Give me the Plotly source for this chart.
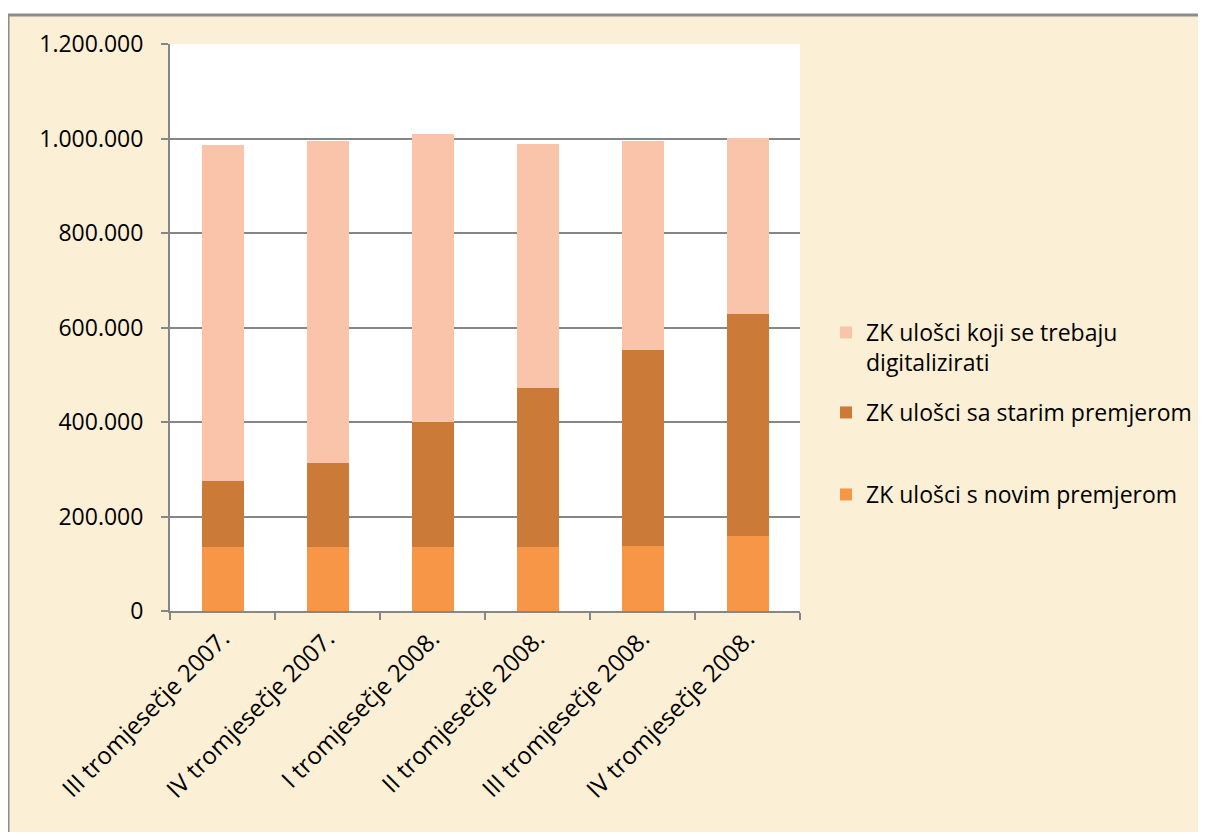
import plotly.graph_objects as go

categories = ["III tromjesečje 2007.", "IV tromjesečje 2007.", "I tromjesečje 2008.",
              "II tromjesečje 2008.", "III tromjesečje 2008.", "IV tromjesečje 2008."]
novi_premjer = [135000, 135000, 135000, 135000, 137000, 158000]
stari_premjer = [141000, 178000, 266000, 337000, 416000, 471000]
digitalizirati = [711000, 681000, 609000, 516000, 441000, 373000]
y_ticks = [0, 200000, 400000, 600000, 800000, 1000000, 1200000]

FONT = "Open Sans"
OFF = 8  # page body margin
W, H = 1190, 824
# plot area in page pixels
L, R, T, B = 170 - OFF, 800 - OFF, 44 - OFF, 611 - OFF


def px(x):  # page x -> paper
    return (x - OFF - L) / (R - L)


def py(y):  # page y -> paper
    return (B - (y - OFF)) / (B - T)


fig = go.Figure()
fig.add_trace(go.Bar(x=categories, y=novi_premjer, name="ZK ulošci s novim premjerom",
                     marker=dict(color="#F79646", line=dict(width=0)), legend="legend3"))
fig.add_trace(go.Bar(x=categories, y=stari_premjer, name="ZK ulošci sa starim premjerom",
                     marker=dict(color="#CC7A38", line=dict(width=0)), legend="legend2"))
fig.add_trace(go.Bar(x=categories, y=digitalizirati,
                     name="ZK ulošci koji se trebaju<br>digitalizirati",
                     marker=dict(color="#F9C4A9", line=dict(width=0)), legend="legend"))

leg_common = dict(xanchor="left", yanchor="top", bgcolor="rgba(0,0,0,0)",
                  font=dict(family=FONT, size=23, color="#000000"), valign="top")

fig.update_layout(
    width=W, height=H,
    margin=dict(l=L, r=W - R, t=T, b=H - B, autoexpand=False),
    paper_bgcolor="#FFFFFF",
    plot_bgcolor="rgba(0,0,0,0)",
    barmode="stack",
    bargap=0.6,
    separators=",.",
    font=dict(family=FONT, size=22, color="#000000"),
    showlegend=True,
    legend=dict(x=px(826), y=py(311), **leg_common),
    legend2=dict(x=px(826), y=py(391), **leg_common),
    legend3=dict(x=px(826), y=py(473), **leg_common),
    xaxis=dict(
        tickangle=-45, tickson="boundaries", ticks="outside", ticklen=7,
        tickcolor="#868686", tickwidth=2,
        showline=True, linecolor="#868686", linewidth=2,
        tickfont=dict(family=FONT, size=24, color="#000000"),
        ticklabelstandoff=2,
        showgrid=False,
    ),
    yaxis=dict(
        range=[0, 1200000], tickvals=y_ticks, tickformat=",d",
        ticks="outside", ticklen=7, tickcolor="#868686", tickwidth=2,
        showline=True, linecolor="#868686", linewidth=2,
        showgrid=True, gridcolor="#868686", gridwidth=2,
        tickfont=dict(family=FONT, size=23, color="#000000"),
        ticklabelstandoff=13,
        zeroline=False,
    ),
    shapes=[
        # parchment background inside the frame
        dict(type="rect", xref="paper", yref="paper",
             x0=px(8), x1=px(1230), y0=py(15), y1=py(880),
             line=dict(width=0), fillcolor="#FBEFD6", layer="below"),
        # white plotting area
        dict(type="rect", xref="paper", yref="paper", x0=0, x1=1, y0=0, y1=1,
             line=dict(width=0), fillcolor="#FFFFFF", layer="below"),
        # grey frame
        dict(type="rect", xref="paper", yref="paper",
             x0=px(8), x1=px(1230), y0=py(15), y1=py(880),
             line=dict(color="#8C8C8C", width=3), fillcolor="rgba(0,0,0,0)",
             layer="above"),
    ],
)

fig.write_html("out.html")
